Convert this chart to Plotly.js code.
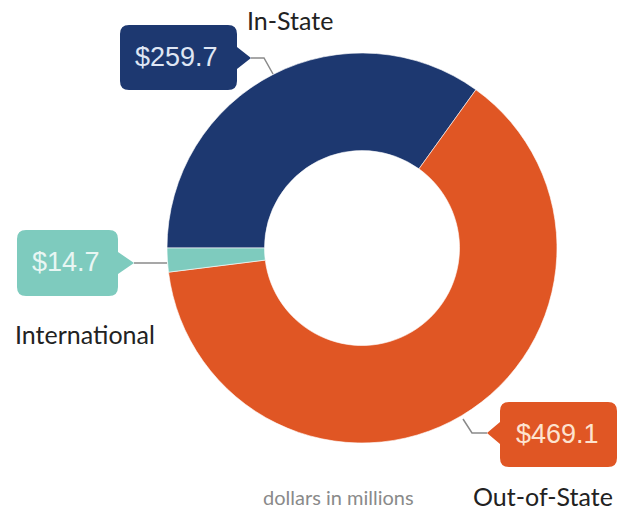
<!DOCTYPE html>
<html>
<head>
<meta charset="utf-8">
<script src="https://cdn.plot.ly/plotly-3.0.1.min.js"></script>
<style>html,body{margin:0;padding:0;background:#fff;}#chart{width:627px;height:517px;}</style>
</head>
<body>
<div id="chart"></div>
<script>
// ---- data ----
const categories = ["In-State", "Out-of-State", "International"];
const values = [259.7, 469.1, 14.7];
const sliceColors = ["#1d3870", "#e05624", "#7ecbbe"];
const valueTextColors = ["#dfe6f4", "#fde3cf", "#e8f6f3"];
const valueLabels = values.map(v => "$" + v.toFixed(1));
const unitNote = "dollars in millions";

// ---- helpers (pixel -> paper) ----
const W = 627, H = 517;
const px = x => x / W;
const py = y => 1 - y / H;
function P(x, y) { return px(x).toFixed(5) + "," + py(y).toFixed(5); }

function callout(x0, y0, x1, y1, r, side, tx, ty, hb) {
  let d = "M" + P(x0 + r, y0) + " L" + P(x1 - r, y0) + " Q" + P(x1, y0) + " " + P(x1, y0 + r);
  if (side === "right") {
    d += " L" + P(x1, ty - hb) + " L" + P(tx, ty) + " L" + P(x1, ty + hb);
  }
  d += " L" + P(x1, y1 - r) + " Q" + P(x1, y1) + " " + P(x1 - r, y1);
  d += " L" + P(x0 + r, y1) + " Q" + P(x0, y1) + " " + P(x0, y1 - r);
  if (side === "left") {
    d += " L" + P(x0, ty + hb) + " L" + P(tx, ty) + " L" + P(x0, ty - hb);
  }
  d += " L" + P(x0, y0 + r) + " Q" + P(x0, y0) + " " + P(x0 + r, y0) + " Z";
  return d;
}
function polyline(pts) {
  return pts.map((p, i) => (i ? "L" : "M") + P(p[0], p[1])).join(" ");
}

// callout geometry (pixels): [x0,y0,x1,y1, side, tipx, tipy]
const boxes = [
  [120, 25, 237, 90, "right", 251, 58],
  [500, 402, 617, 467, "left", 487, 433],
  [17, 230, 118, 296, "right", 134, 263]
];
const leaders = [
  [[251, 58], [264, 58], [273, 74]],
  [[487, 433], [472, 433], [463, 419]],
  [[134, 263], [167, 263]]
];
const valuePos = [[176, 57], [557, 434], [66, 262]];
const catPos = [[290, 20], [543, 496], [85, 334]];

const shapes = [];
const annotations = [];
boxes.forEach((b, i) => {
  shapes.push({type: "path", xref: "paper", yref: "paper", layer: "above",
    path: callout(b[0], b[1], b[2], b[3], 9, b[4], b[5], b[6], 11),
    fillcolor: sliceColors[i], line: {width: 0}});
  shapes.push({type: "path", xref: "paper", yref: "paper", layer: "above",
    path: polyline(leaders[i]), line: {color: "#8a8a8a", width: 1.5}});
  annotations.push({xref: "paper", yref: "paper", x: px(valuePos[i][0]), y: py(valuePos[i][1]),
    xanchor: "center", yanchor: "middle", showarrow: false, text: valueLabels[i],
    font: {family: "Liberation Sans, Arial, sans-serif", size: 27, color: valueTextColors[i]}});
  annotations.push({xref: "paper", yref: "paper", x: px(catPos[i][0]), y: py(catPos[i][1]),
    xanchor: "center", yanchor: "middle", showarrow: false, text: categories[i],
    font: {family: "Lato, sans-serif", size: 25, color: "#222"}});
});
annotations.push({xref: "paper", yref: "paper", x: px(338), y: py(497),
  xanchor: "center", yanchor: "middle", showarrow: false, text: unitNote,
  font: {family: "Lato, sans-serif", size: 20, color: "#8a8a8a"}});

const trace = {
  type: "pie",
  labels: categories,
  values: values,
  marker: {colors: sliceColors, line: {color: "rgba(255,255,255,0.6)", width: 1}},
  hole: 0.5,
  sort: false,
  direction: "clockwise",
  rotation: -90,
  textinfo: "none",
  hoverinfo: "none",
  showlegend: false,
  domain: {x: [px(166), px(558)], y: [py(443), py(53)]}
};

Plotly.newPlot("chart", [trace], {
  width: W, height: H,
  margin: {l: 0, r: 0, t: 0, b: 0},
  paper_bgcolor: "#fff", plot_bgcolor: "#fff",
  showlegend: false,
  shapes: shapes,
  annotations: annotations
}, {displayModeBar: false, staticPlot: true});
</script>
</body>
</html>
